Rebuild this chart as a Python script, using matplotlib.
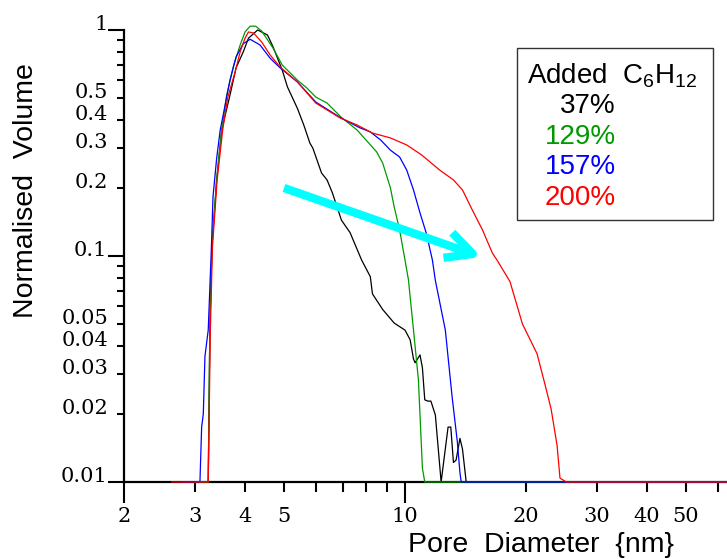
import numpy as np
import matplotlib
matplotlib.use("Agg")
import matplotlib.pyplot as plt
from matplotlib.patches import Rectangle

plt.rcParams['font.family'] = ['Liberation Sans', 'DejaVu Sans']
plt.rcParams['mathtext.fontset'] = 'custom'
plt.rcParams['mathtext.rm'] = 'Liberation Sans'
plt.rcParams['mathtext.it'] = 'Liberation Sans'

# Pore size distributions (pore diameter in nm, normalised volume)
x_37 = [3.0, 3.24, 3.27, 3.31, 3.4, 3.5, 3.67, 3.8, 3.96, 4.08, 4.3, 4.55, 4.7,
        4.95, 5.1, 5.4, 5.6, 5.8, 5.9, 6.2, 6.4, 6.6, 6.95, 7.3, 7.8, 8.2, 8.3,
        8.8, 9.4, 10.0, 10.3, 10.5, 10.6, 10.9, 11.05, 11.2, 11.4, 11.6, 11.9,
        12.3, 12.8, 13.0, 13.2, 13.4, 13.7, 13.9, 14.2, 63.25]
y_37 = [0.01, 0.01, 0.047, 0.11, 0.217, 0.361, 0.515, 0.68, 0.80, 0.92, 1.0,
        0.95, 0.84, 0.665, 0.56, 0.45, 0.38, 0.316, 0.30, 0.233, 0.217, 0.19,
        0.144, 0.127, 0.096, 0.081, 0.068, 0.058, 0.0505, 0.047, 0.0426, 0.035,
        0.0337, 0.0365, 0.032, 0.0231, 0.0228, 0.0228, 0.0198, 0.01, 0.0175,
        0.0175, 0.0122, 0.0125, 0.0156, 0.014, 0.01, 0.01]

x_129 = [3.0, 3.24, 3.27, 3.31, 3.4, 3.5, 3.6, 3.75, 3.89, 4.0, 4.12, 4.25, 4.4,
         4.7, 4.95, 5.4, 5.7, 6.0, 6.4, 6.95, 7.6, 8.0, 8.5, 8.8, 9.2, 9.4, 9.7,
         10.0, 10.2, 10.5, 10.8, 11.05, 11.2, 63.25]
y_129 = [0.01, 0.01, 0.047, 0.11, 0.217, 0.361, 0.515, 0.70, 0.858, 0.98, 1.04,
         1.04, 0.99, 0.83, 0.70, 0.60, 0.554, 0.505, 0.475, 0.41, 0.361, 0.326,
         0.289, 0.258, 0.20, 0.165, 0.13, 0.096, 0.0785, 0.047, 0.0283, 0.0115,
         0.01, 0.01]

x_157 = [2.8, 3.09, 3.12, 3.15, 3.18, 3.24, 3.3, 3.33, 3.4, 3.47, 3.57, 3.67,
         3.8, 3.96, 4.12, 4.36, 4.62, 4.89, 5.4, 6.0, 6.9, 7.7, 8.2, 8.7, 9.2,
         9.7, 10.1, 10.5, 10.9, 11.3, 11.7, 11.9, 12.6, 13.1, 13.5, 13.7, 13.8,
         63.25]
y_157 = [0.01, 0.01, 0.0175, 0.02, 0.036, 0.047, 0.11, 0.183, 0.27, 0.361,
         0.466, 0.6, 0.76, 0.87, 0.91, 0.858, 0.75, 0.68, 0.589, 0.48, 0.41,
         0.37, 0.354, 0.326, 0.294, 0.274, 0.24, 0.196, 0.155, 0.126, 0.096,
         0.078, 0.047, 0.0238, 0.015, 0.011, 0.01, 0.01]

x_200 = [2.63, 3.24, 3.28, 3.32, 3.41, 3.52, 3.62, 3.78, 3.89, 4.0, 4.08, 4.2,
         4.4, 4.62, 4.89, 5.4, 6.0, 6.9, 7.6, 8.3, 9.2, 10.1, 11.0, 12.2, 13.2,
         13.9, 14.7, 15.6, 16.5, 17.0, 18.25, 19.6, 21.3, 22.3, 23.1, 23.9, 24.3,
         25.2, 63.25]
y_200 = [0.01, 0.01, 0.047, 0.11, 0.217, 0.361, 0.50, 0.652, 0.80, 0.92, 0.98,
         0.97, 0.885, 0.775, 0.686, 0.589, 0.475, 0.408, 0.38, 0.35, 0.333, 0.31,
         0.28, 0.24, 0.217, 0.196, 0.16, 0.13, 0.103, 0.095, 0.077, 0.05, 0.037,
         0.027, 0.021, 0.0145, 0.0104, 0.01, 0.01]

legend_labels = ['37%', '129%', '157%', '200%']
colors = ['black', '#009900', '#0000ff', '#ff0000']

x_major = [2, 10]
x_minor = [3, 4, 5, 6, 7, 8, 9, 20, 30, 40, 50, 60]
x_minor_labels = ['3', '4', '5', '', '', '', '', '20', '30', '40', '50', '']
y_major = [0.01, 0.1, 1]
y_major_labels = ['0.01', '0.1', '1']
y_minor = [0.02, 0.03, 0.04, 0.05, 0.06, 0.07, 0.08, 0.09,
           0.2, 0.3, 0.4, 0.5, 0.6, 0.7, 0.8, 0.9]
y_minor_labels = ['0.02', '0.03', '0.04', '0.05', '', '', '', '',
                  '0.2', '0.3', '0.4', '0.5', '', '', '', '']

fig = plt.figure(figsize=(7.27, 5.59), dpi=100)
ax = fig.add_axes([124 / 727, 77 / 559, 603 / 727, 452 / 559])

series = [(x_37, y_37), (x_129, y_129), (x_157, y_157), (x_200, y_200)]
for (xs, ys), c in zip(series, colors):
    ax.plot(xs, ys, color=c, lw=0.9, clip_on=False)

ax.set_xscale('log')
ax.set_yscale('log')
ax.set_xlim(2, 63.25)
ax.set_ylim(0.01, 1)

for s in ['top', 'right']:
    ax.spines[s].set_visible(False)
for s in ['left', 'bottom']:
    ax.spines[s].set_linewidth(1.6)
    ax.spines[s].set_zorder(1)

ax.set_xticks(x_major, ['2', '10'])
ax.set_xticks(x_minor, x_minor_labels, minor=True)
ax.set_yticks(y_major, y_major_labels)
ax.set_yticks(y_minor, y_minor_labels, minor=True)

ax.tick_params(direction='out', width=1.5, labelsize=15,
               labelfontfamily='DejaVu Serif', which='both')
ax.tick_params(axis='x', which='major', length=15, pad=3)
ax.tick_params(axis='x', which='minor', length=7, pad=11)
ax.tick_params(axis='y', which='major', length=11.5, pad=0.5)
ax.tick_params(axis='y', which='minor', length=5, pad=6.5)
for lab in ax.get_yticklabels(which='both'):
    lab.set_verticalalignment('baseline')

fig.text(26 / 727, 1 - 191 / 559, 'Normalised  Volume', rotation=90,
         ha='center', va='center', fontsize=20.5)
fig.text(541 / 727, 7 / 559, 'Pore  Diameter  {nm}', ha='center',
         va='baseline', fontsize=20.5)

# trend arrow
ax.annotate('', xy=(15.5, 0.099), xytext=(5.0, 0.2),
            arrowprops=dict(arrowstyle='->,head_length=0.95,head_width=0.48',
                            color='#00ffff', lw=6, mutation_scale=20,
                            shrinkA=0, shrinkB=0, capstyle='butt'))

# legend box
fig.patches.append(Rectangle((517 / 727, 1 - 220 / 559), 196 / 727, 172 / 559,
                             transform=fig.transFigure, facecolor='white',
                             edgecolor='#333333', lw=1.0))
fig.text(527 / 727, 1 - 83 / 559, 'Added  C$_6$H$_{12}$', ha='left',
         va='baseline', fontsize=20)
baselines = [113, 144, 174, 205]
for lab, c, b in zip(legend_labels, colors, baselines):
    fig.text(616 / 727, 1 - b / 559, lab, ha='right', va='baseline',
             fontsize=20, color=c)

fig.savefig('out.png', dpi=100)
